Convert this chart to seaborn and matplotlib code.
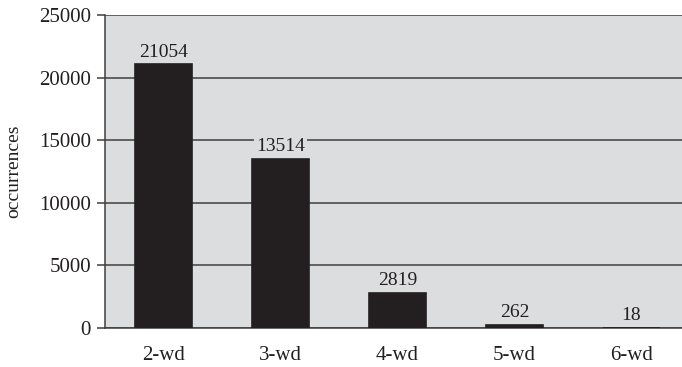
import matplotlib
matplotlib.use("Agg")
import matplotlib.pyplot as plt
import seaborn as sns
import pandas as pd

categories = ["2-wd", "3-wd", "4-wd", "5-wd", "6-wd"]
occurrences = [21054, 13514, 2819, 262, 18]
y_ticks = [0, 5000, 10000, 15000, 20000, 25000]

BG = "#dcdddf"
BAR = "#231f20"
GRID = "#3f3f3f"

sns.set_theme(style="white")
plt.rcParams["font.family"] = ["Liberation Serif", "DejaVu Serif"]

df = pd.DataFrame({"category": categories, "occurrences": occurrences})

fig = plt.figure(figsize=(6.82, 3.67), dpi=100)
# axes run a little past the right edge of the canvas
ax = fig.add_axes([105 / 682, (367 - 328) / 367, 585 / 682, 313 / 367])
ax.set_facecolor(BG)

# a thin outline keeps the very short bars visible
sns.barplot(data=df, x="category", y="occurrences", color=BAR, width=0.49,
            saturation=1, edgecolor=BAR, linewidth=1.2, ax=ax, zorder=3)

ax.set_xlim(-0.5, 4.5)
ax.set_ylim(0, 25000)
ax.set_yticks(y_ticks)
ax.set_yticklabels([str(t) for t in y_ticks], fontsize=15, color="#231f20")
ax.yaxis.grid(True, color=GRID, linewidth=1.1, zorder=0)
ax.set_axisbelow(True)

ax.tick_params(axis="y", which="both", left=True, length=6, width=1.1,
               color=GRID, pad=4)
ax.tick_params(axis="x", bottom=False, labelsize=15, labelcolor="#231f20", pad=7)

for side in ["top", "right"]:
    ax.spines[side].set_visible(False)
ax.spines["left"].set_color(GRID)
ax.spines["left"].set_linewidth(1.1)
ax.spines["bottom"].set_color(GRID)
ax.spines["bottom"].set_linewidth(1.1)

ax.set_xlabel("")
ax.set_ylabel("occurrences", fontsize=14, color="#231f20", labelpad=12)

for i, v in enumerate(occurrences):
    ax.annotate(str(v), xy=(i, v), xytext=(0, 2.5), textcoords="offset points",
                ha="center", va="bottom", fontsize=14, color="#231f20", zorder=5,
                bbox=dict(boxstyle="square,pad=0.1", facecolor=BG, edgecolor="none"))

fig.savefig("out.png", dpi=100)
